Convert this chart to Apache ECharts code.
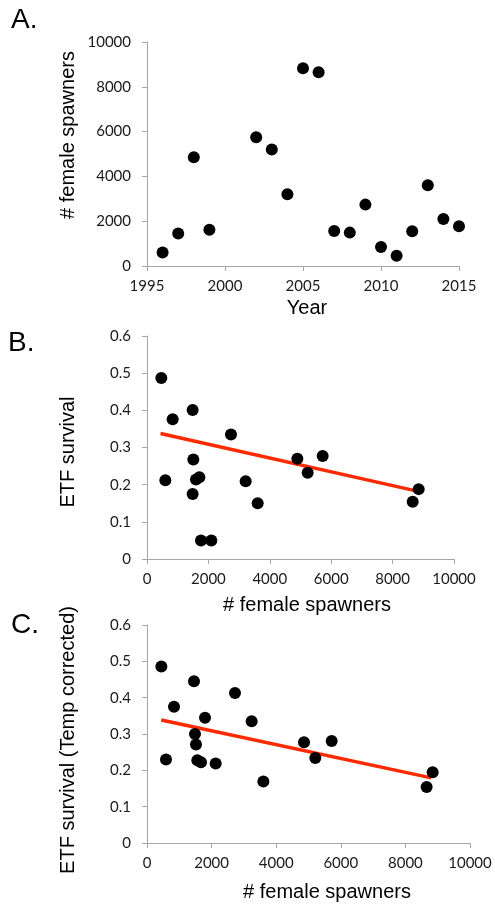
<!DOCTYPE html>
<html>
<head>
<meta charset="utf-8">
<script src="https://cdn.jsdelivr.net/npm/echarts@6/dist/echarts.min.js"></script>
<style>
html,body{margin:0;padding:0;background:#fff;}
#chart{width:495px;height:905px;}
</style>
</head>
<body>
<div id="chart"></div>
<script>
// Panel A: spawners by year
var years = [1996,1997,1998,1999,2002,2003,2004,2005,2006,2007,2008,2009,2010,2011,2012,2013,2014,2015];
var spawners = [600,1450,4850,1620,5750,5200,3200,8830,8650,1560,1490,2740,850,460,1550,3600,2100,1770];

// Panel B: ETF survival vs spawners
var spawnersB = [466,597,836,1487,1509,1487,1596,1705,1759,2095,2736,3214,3605,4897,5233,5722,8654,8849];
var survivalB = [0.487,0.212,0.376,0.401,0.268,0.175,0.214,0.220,0.050,0.050,0.335,0.209,0.150,0.270,0.232,0.277,0.154,0.188];

// Panel C: ETF survival (temp corrected) vs spawners
var spawnersC = [444,588,836,1455,1486,1517,1558,1672,1796,2126,2724,3240,3602,4861,5211,5717,8658,8844];
var survivalC = [0.486,0.230,0.375,0.445,0.300,0.271,0.228,0.222,0.345,0.219,0.413,0.335,0.169,0.277,0.234,0.281,0.154,0.195];

// Trend lines (endpoints)
var trendX = [440, 8800];
var trendB = [0.3376, 0.1826];
var trendC = [0.3386, 0.1792];

function zip(a, b){ return a.map(function(v,i){ return [v, b[i]]; }); }

var AXIS_COLOR = '#a6a6a6';
var LABEL_FONT = 'Lato';
var TITLE_FONT = '"Liberation Sans", Arial, sans-serif';
function intFmt(v){ return String(Math.round(v)); }
function decFmt(v){ return v === 0 ? '0' : v.toFixed(1); }

function xAx(gi, min, max, interval){
  return {
    type:'value', gridIndex:gi, min:min, max:max, interval:interval,
    axisLine:{show:true, lineStyle:{color:AXIS_COLOR, width:1}},
    axisTick:{show:true, inside:false, length:5, lineStyle:{color:AXIS_COLOR}},
    axisLabel:{fontFamily:LABEL_FONT, fontSize:15, color:'#1a1a1a', margin:13, formatter:intFmt},
    splitLine:{show:false}
  };
}
function yAx(gi, min, max, interval, fmt){
  return {
    type:'value', gridIndex:gi, min:min, max:max, interval:interval,
    axisLine:{show:true, lineStyle:{color:AXIS_COLOR, width:1}},
    axisTick:{show:true, inside:false, length:5, lineStyle:{color:AXIS_COLOR}},
    axisLabel:{fontFamily:LABEL_FONT, fontSize:15, color:'#1a1a1a', margin:16, formatter:fmt},
    splitLine:{show:false}
  };
}

function txt(t, x, y, size, rot, align){
  return {
    type:'text', x:x, y:y, rotation: rot || 0,
    style:{text:t, font: size + 'px ' + TITLE_FONT, fill:'#000',
      align: align || 'center', verticalAlign:'middle'}
  };
}

var dot = {symbolSize:12, itemStyle:{color:'#000', opacity:1}};

var chart = echarts.init(document.getElementById('chart'), null, {renderer:'canvas'});
chart.setOption({
  animation:false,
  backgroundColor:'#fff',
  grid:[
    {left:147, top:42, width:312, height:224},
    {left:147, top:336, width:307, height:223},
    {left:147, top:625, width:323, height:218}
  ],
  xAxis:[
    xAx(0, 1995, 2015, 5),
    xAx(1, 0, 10000, 2000),
    xAx(2, 0, 10000, 2000)
  ],
  yAxis:[
    yAx(0, 0, 10000, 2000, intFmt),
    yAx(1, 0, 0.6, 0.1, decFmt),
    yAx(2, 0, 0.6, 0.1, decFmt)
  ],
  series:[
    Object.assign({type:'scatter', xAxisIndex:0, yAxisIndex:0, data:zip(years, spawners)}, dot),
    Object.assign({type:'scatter', xAxisIndex:1, yAxisIndex:1, data:zip(spawnersB, survivalB)}, dot),
    {type:'line', xAxisIndex:1, yAxisIndex:1, data:zip(trendX, trendB),
      showSymbol:false, symbol:'none', lineStyle:{color:'#ff2a00', width:3.5}, z:1},
    Object.assign({type:'scatter', xAxisIndex:2, yAxisIndex:2, data:zip(spawnersC, survivalC)}, dot),
    {type:'line', xAxisIndex:2, yAxisIndex:2, data:zip(trendX, trendC),
      showSymbol:false, symbol:'none', lineStyle:{color:'#ff2a00', width:3.5}, z:1}
  ],
  graphic:[
    txt('A.', 11, 20, 28, 0, 'left'),
    txt('B.', 8, 343, 28, 0, 'left'),
    txt('C.', 11, 625, 28, 0, 'left'),
    txt('# female spawners', 68, 135, 20, Math.PI/2),
    txt('ETF survival', 68, 452, 20, Math.PI/2),
    txt('ETF survival (Temp corrected)', 68, 740, 20, Math.PI/2),
    txt('Year', 307, 308, 20),
    txt('# female spawners', 307, 605, 20),
    txt('# female spawners', 327, 892, 20)
  ]
});
</script>
</body>
</html>
